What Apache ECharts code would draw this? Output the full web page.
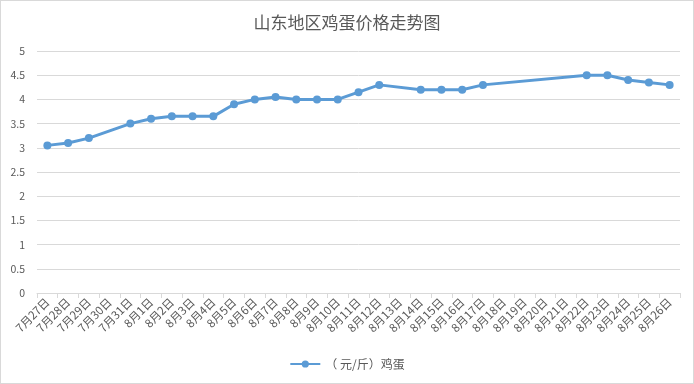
<!DOCTYPE html>
<html><head><meta charset="utf-8">
<script src="https://cdn.jsdelivr.net/npm/echarts@6/dist/echarts.min.js"></script>
<style>html,body{margin:0;padding:0;background:#fff}#c{width:692px;height:382px;border:1px solid #d9d9d9}</style>
</head><body><div id="c"></div>
<script>
var categories = ['7月27日','7月28日','7月29日','7月30日','7月31日','8月1日','8月2日','8月3日','8月4日','8月5日','8月6日','8月7日','8月8日','8月9日','8月10日','8月11日','8月12日','8月13日','8月14日','8月15日','8月16日','8月17日','8月18日','8月19日','8月20日','8月21日','8月22日','8月23日','8月24日','8月25日','8月26日'];
var eggPrice = [3.05,3.1,3.2,null,3.5,3.6,3.65,3.65,3.65,3.9,4.0,4.05,4.0,4.0,4.0,4.15,4.3,null,4.2,4.2,4.2,4.3,null,null,null,null,4.5,4.5,4.4,4.35,4.3];
var seriesName = '（ 元/斤）鸡蛋';
var titleText = '山东地区鸡蛋价格走势图';
var font = '"Microsoft YaHei","Noto Sans CJK SC",sans-serif';
var chart = echarts.init(document.getElementById('c'));
chart.setOption({
  animation:false,
  title:{text:titleText,left:'center',top:8,textStyle:{fontFamily:font,fontSize:17,fontWeight:'normal',color:'#595959'}},
  legend:{bottom:8,left:'center',itemWidth:30,itemHeight:9,textStyle:{fontFamily:font,fontSize:12,color:'#595959'},data:[seriesName]},
  grid:{left:36,right:13,top:50,bottom:90},
  xAxis:{type:'category',data:categories,boundaryGap:true,
    axisLine:{lineStyle:{color:'#d9d9d9'}},axisTick:{show:true,lineStyle:{color:'#d9d9d9'},length:5},
    axisLabel:{rotate:45,interval:0,fontFamily:font,fontSize:11.5,color:'#595959',margin:7}},
  yAxis:{type:'value',min:0,max:5,interval:0.5,
    axisLine:{show:false},axisTick:{show:false},
    splitLine:{lineStyle:{color:'#d9d9d9'}},
    axisLabel:{fontFamily:font,fontSize:10.5,color:'#595959',margin:12}},
  series:[{name:seriesName,type:'line',data:eggPrice,connectNulls:true,
    symbol:'circle',symbolSize:8,
    lineStyle:{color:'#5b9bd5',width:3},itemStyle:{color:'#5b9bd5'}}]
});
</script></body></html>
